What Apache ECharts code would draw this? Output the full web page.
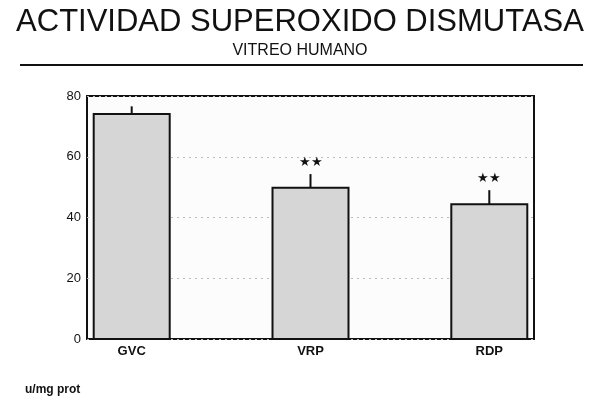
<!DOCTYPE html>
<html><head><meta charset="utf-8">
<script src="https://cdn.jsdelivr.net/npm/echarts@6/dist/echarts.min.js"></script>
<style>html,body{margin:0;background:#fff}#c{width:600px;height:408px}</style>
</head><body><div id="c"></div>
<script>
var categories = ['GVC', 'VRP', 'RDP'];
var means = [74.1, 49.8, 44.4];
var errTops = [76.6, 54.3, 49.0];
var stars = ['', '★★', '★★'];
var positions = [0.30, 1.50, 2.70];

var chart = echarts.init(document.getElementById('c'));
chart.setOption({
    backgroundColor: '#fff',
    animation: false,
    title: [
        { text: 'ACTIVIDAD SUPEROXIDO DISMUTASA', left: 'center', top: 2,
          textStyle: { fontFamily: 'Liberation Sans', fontWeight: 'normal', fontSize: 31, color: '#111' } },
        { text: 'VITREO HUMANO', left: 'center', top: 38,
          textStyle: { fontFamily: 'Liberation Sans', fontWeight: 'normal', fontSize: 16, color: '#111' } },
        { text: 'u/mg prot', left: 20, top: 379,
          textStyle: { fontFamily: 'Liberation Sans', fontWeight: 'bold', fontSize: 12, color: '#111' } }
    ],
    graphic: [{ type: 'line', shape: { x1: 20, y1: 65, x2: 583, y2: 65 }, style: { stroke: '#111', lineWidth: 2 } }],
    grid: { left: 87, right: 66, top: 96, bottom: 69, show: true, borderColor: '#111', borderWidth: 2, backgroundColor: '#fcfcfc' },
    xAxis: { type: 'value', min: 0, max: 3, show: false },
    yAxis: {
        type: 'value', min: 0, max: 80, interval: 20,
        axisLine: { show: false }, axisTick: { show: false },
        axisLabel: { color: '#111', fontSize: 13, fontFamily: 'Liberation Sans', margin: 6 },
        splitLine: { lineStyle: { color: '#bbb', type: [2, 4] } }
    },
    series: [{
        type: 'custom',
        data: categories.map(function (c, i) { return [positions[i], means[i], errTops[i], i]; }),
        renderItem: function (params, api) {
            var x = api.value(0), i = api.value(3);
            var top = api.coord([x, api.value(1)]);
            var base = api.coord([x, 0]);
            var et = api.coord([x, api.value(2)]);
            var w = 76;
            return { type: 'group', children: [
                { type: 'line', shape: { x1: top[0], y1: top[1], x2: et[0], y2: et[1] }, style: { stroke: '#111', lineWidth: 2 } },
                { type: 'rect', shape: { x: top[0] - w / 2, y: top[1], width: w, height: base[1] - top[1] },
                  style: { fill: '#d6d6d6', stroke: '#111', lineWidth: 2 } },
                { type: 'text', x: et[0], y: et[1] - 5, style: { text: stars[i], align: 'center', verticalAlign: 'bottom', fontSize: 13, fill: '#111' } },
                { type: 'text', x: base[0], y: base[1] + 6, style: { text: categories[i], align: 'center', verticalAlign: 'top',
                  fontSize: 13, fontWeight: 'bold', fontFamily: 'Liberation Sans', fill: '#111' } }
            ] };
        }
    }]
});
</script></body></html>
